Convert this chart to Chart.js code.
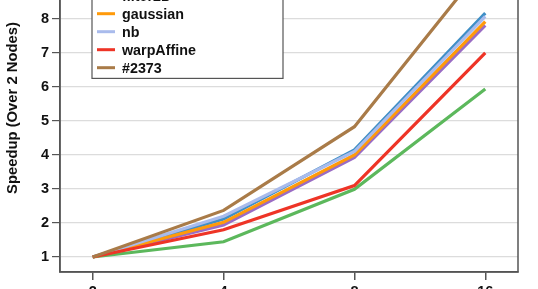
<!DOCTYPE html>
<html>
<head>
<meta charset="utf-8">
<script src="https://cdn.jsdelivr.net/npm/chart.js@4"></script>
<style>
  html, body { margin: 0; padding: 0; overflow: hidden; background: #fff; }
  #wrap { position: absolute; left: 0; top: -70px; width: 538px; height: 359px; }
</style>
</head>
<body>
<div id="wrap"><canvas id="chart"></canvas></div>
<script>
// nodes on the x axis
const nodes = [2, 4, 8, 16];
const yTicks = [1, 2, 3, 4, 5, 6, 7, 8, 9, 10];

const names = ["sobel", "bilateral", "filter2D", "gaussian", "nb", "warpAffine", "#2373"];

// speedup over 2 nodes
const sobel      = [1, 2.12, 4.15, 8.17];
const bilateral  = [1, 1.94, 3.93, 7.81];
const filter2D   = [1, 1.45, 2.99, 5.94];
const gaussian   = [1, 2.02, 4.00, 7.92];
const nb         = [1, 2.20, 4.10, 8.07];
const warpAffine = [1, 1.80, 3.10, 7.00];
const issue2373  = [1, 2.37, 4.83, 9.63];

const series = [sobel, bilateral, filter2D, gaussian, nb, warpAffine, issue2373];
const colors = ["#3f8fc6", "#9a6cc4", "#5cb85c", "#ff9a0a", "#a9bbec", "#ee3426", "#a97b48"];

const font = "'Liberation Sans', Arial, sans-serif";
Chart.defaults.font.family = font;
Chart.defaults.color = "#111";

// frame round the plot + boxed legend inside it
const framePlugin = {
  id: "frame",
  afterDatasetsDraw(chart) {
    const a = chart.chartArea;
    const ctx = chart.ctx;
    ctx.save();
    ctx.strokeStyle = "#555";
    ctx.lineWidth = 1.5;
    ctx.strokeRect(a.left, a.top, a.right - a.left, a.bottom - a.top);

    const ds = chart.data.datasets;
    const rowH = 18;
    const bx = a.left + 32, by = a.top + 5, bw = 191;
    const bh = 21.4 + (ds.length - 1) * rowH;
    ctx.fillStyle = "#fff";
    ctx.fillRect(bx, by, bw, bh);
    ctx.lineWidth = 1.2;
    ctx.strokeStyle = "#555";
    ctx.strokeRect(bx, by, bw, bh);
    ctx.font = "bold 14.3px " + font;
    ctx.textBaseline = "middle";
    ds.forEach((d, i) => {
      const y = by + 10.7 + i * rowH;
      ctx.strokeStyle = d.borderColor;
      ctx.lineWidth = 3;
      ctx.beginPath();
      ctx.moveTo(bx + 5, y);
      ctx.lineTo(bx + 23, y);
      ctx.stroke();
      ctx.fillStyle = "#111";
      ctx.fillText(d.label, bx + 30, y + 1);
    });
    ctx.restore();
  }
};

const ctx = document.getElementById("chart").getContext("2d");
new Chart(ctx, {
  type: "line",
  data: {
    datasets: series.map((s, i) => ({
      label: names[i],
      data: s.map((v, j) => ({ x: nodes[j], y: v })),
      borderColor: colors[i],
      backgroundColor: colors[i],
      borderWidth: 3.2,
      pointRadius: 0,
      tension: 0,
      fill: false,
      borderJoinStyle: "miter",
      order: series.length - i
    }))
  },
  options: {
    responsive: true,
    maintainAspectRatio: false,
    animation: false,
    layout: { padding: { top: 14, right: 20, left: 0, bottom: 0 } },
    plugins: {
      legend: { display: false },
      tooltip: { enabled: false }
    },
    scales: {
      x: {
        type: "logarithmic",
        min: Math.pow(2, 0.75),
        max: Math.pow(2, 4.25),
        afterBuildTicks: s => { s.ticks = nodes.map(v => ({ value: v })); },
        afterFit: s => { s.height = 17; },
        border: { color: "#555", width: 1.5 },
        grid: { drawOnChartArea: false, tickColor: "#555", tickLength: 8, lineWidth: 1.5 },
        ticks: {
          callback: v => String(v),
          font: { size: 14.5, weight: "bold" },
          color: "#111",
          padding: 3,
          maxRotation: 0
        }
      },
      y: {
        min: 0.56,
        max: 10.2,
        afterBuildTicks: s => { s.ticks = yTicks.map(v => ({ value: v })); },
        afterFit: s => { s.width = 60; },
        border: { color: "#555", width: 1.5 },
        grid: { color: "#dcdcdc", tickColor: "#555", tickLength: 8, lineWidth: 1.2 },
        ticks: {
          font: { size: 14.5, weight: "bold" },
          color: "#111",
          padding: 3
        },
        title: {
          display: true,
          text: "Speedup (Over 2 Nodes)",
          font: { size: 14.8, weight: "bold" },
          color: "#111",
          padding: { top: 4, bottom: 0 }
        }
      }
    }
  },
  plugins: [framePlugin]
});
</script>
</body>
</html>
